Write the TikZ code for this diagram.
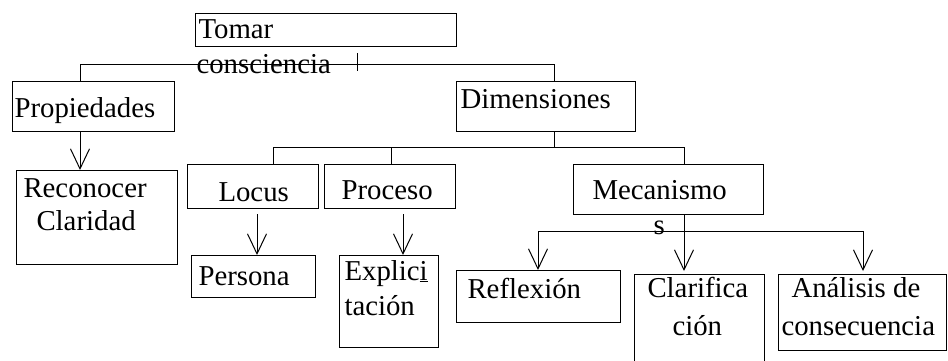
\documentclass[tikz,border=0pt]{standalone}
\usepackage{fontspec}
\setmainfont{Liberation Serif}
\usetikzlibrary{arrows.meta}

\begin{document}
\begin{tikzpicture}[x=1pt, y=-1pt, line width=1pt,
		b/.style={draw, anchor=north west, inner sep=0pt},
		t/.style={anchor=base west, inner sep=0pt, font=\fontsize{28.8}{35}\selectfont},
		a/.style={-{Straight Barb[length=20pt, width=19pt]}}]
		\useasboundingbox (0,0) rectangle (948,360);

		\node[b, minimum width=261pt, minimum height=33pt] (tomar) at (195,13) {};
		\node[b, minimum width=162pt, minimum height=50pt] (prop) at (12,81) {};
		\node[b, minimum width=179pt, minimum height=50pt] (dim) at (456,81) {};
		\node[b, minimum width=161pt, minimum height=94pt] (reco) at (16,170) {};
		\node[b, minimum width=131pt, minimum height=44pt] (locus) at (187,164) {};
		\node[b, minimum width=131pt, minimum height=44pt] (proc) at (324,164) {};
		\node[b, minimum width=190pt, minimum height=50pt] (mec) at (573,164) {};
		\node[b, minimum width=124pt, minimum height=42pt] (pers) at (191,255) {};
		\node[b, minimum width=99pt, minimum height=92pt] (expl) at (339,255) {};
		\node[b, minimum width=164pt, minimum height=52pt] (refl) at (456,270) {};
		\node[b, minimum width=130pt, minimum height=100pt] (clar) at (634,274) {};
		\node[b, minimum width=168pt, minimum height=76pt] (anal) at (778,274) {};

		\node[t] (tomar1) at (198,38) {Tomar};
		\node[t] (tomar2) at (196,73) {consciencia};
		\node[t] (propT) at (14,117) {Propiedades};
		\node[t] (dimT) at (460,108) {Dimensiones};
		\node[t] (reco1) at (23,197) {Reconocer};
		\node[t] (reco2) at (36,230) {Claridad};
		\node[t] (locusT) at (218,201) {Locus};
		\node[t] (procT) at (341,199) {Proceso};
		\node[t] (mec1) at (592,199) {Mecanismo};
		\node[t] (mec2) at (653,234) {s};
		\node[t] (persT) at (198,285) {Persona};
		\node[t] (expl1) at (344,280) {Explic\underline{i}};
		\node[t] (expl2) at (344,315) {tación};
		\node[t] (reflT) at (467,298) {Reflexión};
		\node[t] (clar1) at (647,297) {Clarifica};
		\node[t] (clar2) at (672,335) {ción};
		\node[t] (anal1) at (791,297) {Análisis de};
		\node[t] (anal2) at (781,335) {consecuencia};

		\coordinate (tk) at (357,53);
		\coordinate (j1) at (80,64);
		\coordinate (j2) at (554,64);
		\coordinate (d0) at (554,147);
		\coordinate (d1) at (273,147);
		\coordinate (d2) at (391,147);
		\coordinate (d3) at (684,147);
		\coordinate (l1) at (257,214);
		\coordinate (p1) at (403,214);
		\coordinate (m0) at (684,231);
		\coordinate (m1) at (538,231);
		\coordinate (m2) at (863,231);

		\draw (tk) -- ++(0,18);
		\draw (j1 |- prop.north) -- (j1) -- (j2) -- (j2 |- dim.north);
		\draw (dim.south -| d0) -- (d0);
		\draw (d1 |- locus.north) -- (d1) -- (d3) -- (d3 |- mec.north);
		\draw (d2) -- (d2 |- proc.north);

		\draw[a] (prop.south -| j1) -- (j1 |- reco.north);
		\draw[a] (l1) -- (l1 |- pers.north);
		\draw[a] (p1) -- (p1 |- expl.north);
		\draw[a, shorten >=3pt] (mec.south -| m0) -- (m0 |- clar.north);
		\draw (m1) -- (m2);
		\draw[a] (m1) -- (m1 |- refl.north);
		\draw[a, shorten >=3pt] (m2) -- (m2 |- anal.north);
	\end{tikzpicture}
\end{document}
